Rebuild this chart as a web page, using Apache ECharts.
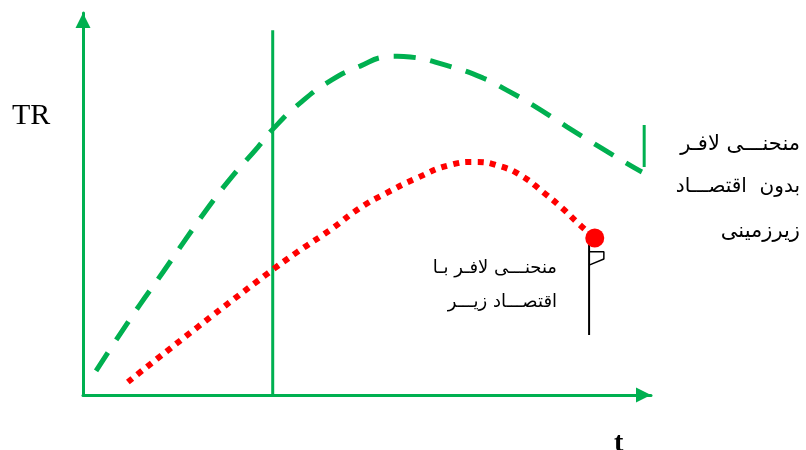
<!DOCTYPE html>
<html lang="fa">
<head>
<meta charset="UTF-8">
<script src="https://cdn.jsdelivr.net/npm/echarts@6/dist/echarts.min.js"></script>
<title>Laffer</title>
<style>
  body { margin: 0; padding: 0; background: #fff; }
  #chart { width: 806px; height: 450px; }
</style>
</head>
<body>
<div id="chart"></div>
<script>
  // x: 0..100 (t), y: 0..100 (TR)
  const greenCurve = [
    [2.3, 6.3], [6.2, 15.2], [10.0, 23.6], [14.1, 32.2], [18.0, 40.6],
    [22.0, 49.0], [26.2, 57.1], [30.8, 64.9], [33.3, 69.4], [38.2, 76.4],
    [43.8, 82.5], [48.8, 86.1], [53.2, 88.5], [55.3, 88.7], [57.6, 88.5],
    [63.7, 86.4], [70.4, 83.0], [74.6, 79.8], [79.2, 75.9], [85.2, 70.2],
    [91.0, 64.9], [96.8, 59.7], [98.4, 58.4]
  ];
  const greenTail = [[98.8, 59.7], [98.8, 70.7]];
  const redCurve = [
    [7.9, 3.4], [20.2, 17.8], [32.6, 31.9], [37.7, 37.4], [43.5, 43.2],
    [48.8, 49.0], [52.8, 52.4], [58.8, 56.8], [64.6, 60.2], [69.0, 61.0],
    [73.4, 59.9], [77.3, 57.3], [81.0, 53.1], [84.3, 49.0], [87.5, 44.5],
    [90.1, 41.1]
  ];
  const redEnd = [[90.1, 41.1]];
  const verticalLine = [[33.4, 0], [33.4, 95.5]];
  const flagPole = [[89.1, 39.3], [89.1, 15.7]];
  const flag = [[89.1, 37.5], [91.7, 37.5], [91.7, 35.6], [89.1, 34.0]];

  const yName = 'TR';
  const xName = 't';
  const labelWithout = ['منحنـــی لافـر', 'بدون  اقتصـــاد', 'زیرزمینی'];
  const labelWith = ['منحنـــی لافـر بـا', 'اقتصـــاد زیـــر'];

  const green = '#00B050';
  const arabicFont = '"DejaVu Sans", sans-serif';

  const chart = echarts.init(document.getElementById('chart'));

  const axisCommon = {
    type: 'value',
    min: 0,
    max: 100,
    axisLine: {
      show: true,
      onZero: false,
      symbol: ['none', 'triangle'],
      symbolSize: [15, 15],
      symbolOffset: [0, -7.5],
      lineStyle: { color: green, width: 3 }
    },
    axisTick: { show: false },
    axisLabel: { show: false },
    splitLine: { show: false }
  };

  const option = {
    animation: false,
    backgroundColor: '#fff',
    grid: { left: 83, right: 155, top: 13, bottom: 55 },
    xAxis: axisCommon,
    yAxis: axisCommon,
    graphic: [
      { type: 'text', left: 12, top: 101,
        style: { text: yName, font: '30px "Liberation Serif", serif', fill: '#000' } },
      { type: 'text', x: 614, y: 458,
        style: { text: xName, font: 'bold 28px "Liberation Serif", serif', fill: '#000', textVerticalAlign: 'bottom' } },
      { type: 'text', x: 800, y: 145,
        style: { text: labelWithout[0], font: '21px ' + arabicFont, fill: '#000', align: 'right', verticalAlign: 'middle' } },
      { type: 'text', x: 800, y: 187,
        style: { text: labelWithout[1], font: '20px ' + arabicFont, fill: '#000', align: 'right', verticalAlign: 'middle' } },
      { type: 'text', x: 800, y: 232,
        style: { text: labelWithout[2], font: '21px ' + arabicFont, fill: '#000', align: 'right', verticalAlign: 'middle' } },
      { type: 'text', x: 557, y: 268,
        style: { text: labelWith[0], font: '18px ' + arabicFont, fill: '#000', align: 'right', verticalAlign: 'middle' } },
      { type: 'text', x: 557, y: 302,
        style: { text: labelWith[1], font: '18px ' + arabicFont, fill: '#000', align: 'right', verticalAlign: 'middle' } }
    ],
    series: [
      {
        name: 'without', type: 'line', data: greenCurve, smooth: true,
        showSymbol: false, silent: true,
        lineStyle: { color: green, width: 5, type: [22, 15], cap: 'butt' }
      },
      {
        name: 'tail', type: 'line', data: greenTail, showSymbol: false, silent: true,
        lineStyle: { color: green, width: 3 }
      },
      {
        name: 'vline', type: 'line', data: verticalLine, showSymbol: false, silent: true,
        lineStyle: { color: green, width: 3 }
      },
      {
        name: 'with', type: 'line', data: redCurve, smooth: true,
        showSymbol: false, silent: true,
        lineStyle: { color: '#FF0000', width: 6, type: [6, 6.3], cap: 'butt' }
      },
      {
        name: 'pole', type: 'line', data: flagPole, showSymbol: false, silent: true,
        lineStyle: { color: '#000', width: 2 }
      },
      {
        name: 'flag', type: 'line', data: flag, showSymbol: false, silent: true,
        lineStyle: { color: '#000', width: 1.5 }
      },
      {
        name: 'end', type: 'scatter', data: redEnd, symbolSize: 19, silent: true,
        itemStyle: { color: '#FF0000', opacity: 1 }, z: 5
      }
    ]
  };

  chart.setOption(option);
</script>
</body>
</html>
